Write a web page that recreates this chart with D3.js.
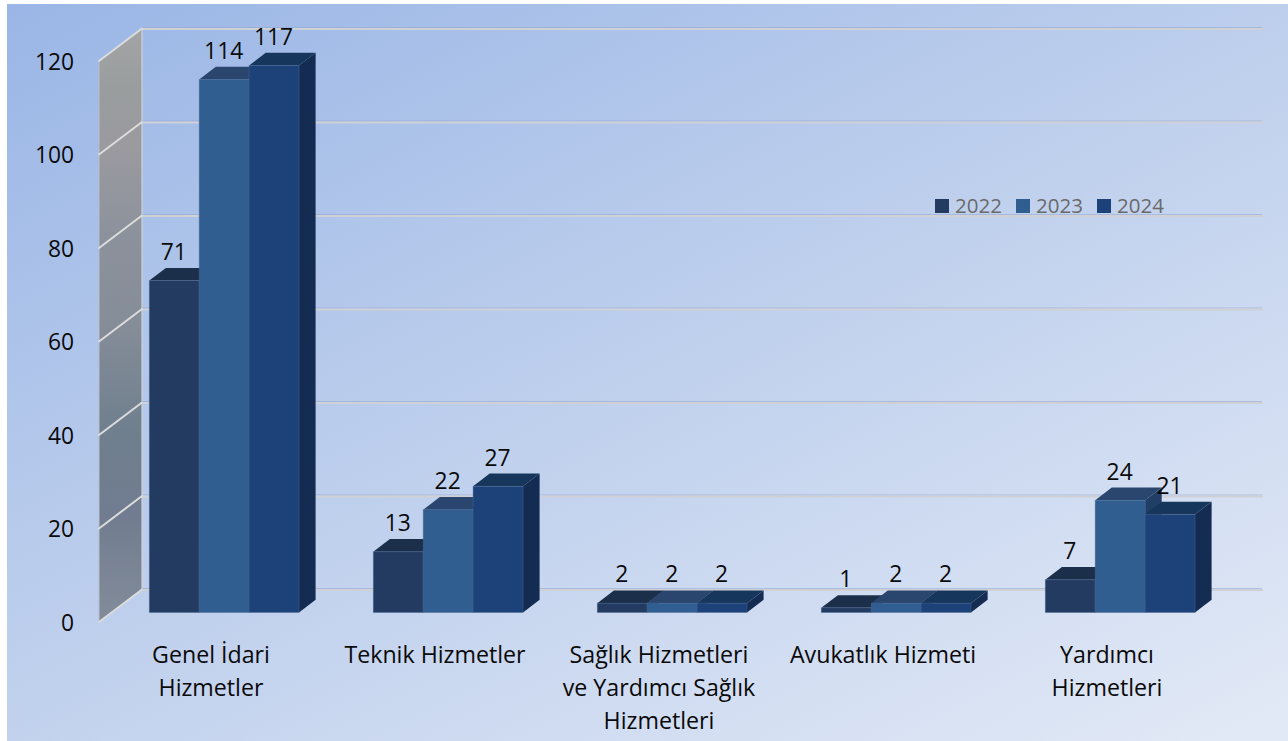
<!DOCTYPE html>
<html><head><meta charset="utf-8">
<script src="https://cdnjs.cloudflare.com/ajax/libs/d3/7.8.5/d3.min.js"></script>
<style>html,body{margin:0;padding:0;background:#fff;overflow:hidden}svg{display:block}text{font-family:"Open Sans",Lato,sans-serif}</style>
</head><body><div id="c"></div>
<script>
const categories=["Genel İdari Hizmetler","Teknik Hizmetler","Sağlık Hizmetleri ve Yardımcı Sağlık Hizmetleri","Avukatlık Hizmeti","Yardımcı Hizmetleri"];
const categoryLines=[["Genel İdari","Hizmetler"],["Teknik Hizmetler"],["Sağlık Hizmetleri","ve Yardımcı Sağlık","Hizmetleri"],["Avukatlık Hizmeti"],["Yardımcı","Hizmetleri"]];
const seriesNames=["2022","2023","2024"];
const values2022=[71,13,2,1,7];
const values2023=[114,22,2,2,24];
const values2024=[117,27,2,2,21];
const allValues=[values2022,values2023,values2024];
const yTicks=[0,20,40,60,80,100,120];
const frontColors=["#243b61","#315e91","#1d4279"];
const topColors=["#1b2e4a","#2a466f","#17365b"];
const sideColors=["#18294a","#213f66","#152c52"];

const W=1288,H=741;
const svg=d3.select("#c").append("svg").attr("width",W).attr("height",H);
const defs=svg.append("defs");
const bg=defs.append("linearGradient").attr("id","bg").attr("gradientUnits","userSpaceOnUse")
  .attr("x1",7).attr("y1",4).attr("x2",552).attr("y2",1094);
[[0,"#9ab6e6"],[.5,"#bfd0ed"],[1,"#e2e9f6"]].forEach(s=>bg.append("stop").attr("offset",s[0]).attr("stop-color",s[1]));
const wg=defs.append("linearGradient").attr("id","wall").attr("x1",0).attr("y1",0).attr("x2",0).attr("y2",1);
[[0,"#a4a4a6"],[.1,"#999d9e"],[.2,"#9b9a9f"],[.35,"#8b929c"],[.5,"#858d98"],[.68,"#6f7f8e"],[.82,"#717c90"],[1,"#828c9a"]].forEach(s=>wg.append("stop").attr("offset",s[0]).attr("stop-color",s[1]));

svg.append("rect").attr("x",7).attr("y",4).attr("width",W-7).attr("height",H-4).attr("fill","url(#bg)");

const x0=d3.scaleBand().domain(categories).range([142,1262]);      // back wall
const xf=d3.scaleBand().domain(categories).range([99,1219]);       // front floor edge (labels)
const y=d3.scaleLinear().domain([0,120]).range([622,61]);          // front edge of wall
const DX=43,DY=-32.5;
const barBase=612.5, depthX=16.6, depthY=-12.7;
const xs=d3.scaleBand().domain(seriesNames).range([7.3,157]);

// wall
svg.append("path").attr("d",`M99,${y(120)}L${99+DX},${y(120)+DY}L${99+DX},${y(0)+DY}L99,${y(0)}Z`)
  .attr("fill","url(#wall)");
svg.append("line").attr("x1",142).attr("x2",142).attr("y1",y(120)+DY).attr("y2",y(0)+DY).attr("stroke","#cfd3da").attr("stroke-width",1.2);
svg.append("line").attr("x1",99).attr("x2",99).attr("y1",y(120)).attr("y2",y(0)).attr("stroke","#b9bfc8").attr("stroke-width",1);

// gridlines
const g=svg.append("g").selectAll("g").data(yTicks).join("g");
g.append("line").attr("x1",142).attr("x2",1262).attr("y1",d=>y(d)+DY-1).attr("y2",d=>y(d)+DY-1).attr("stroke","#8fa6d0").attr("stroke-opacity",.55).attr("stroke-width",1);
g.append("line").attr("x1",142).attr("x2",1262).attr("y1",d=>y(d)+DY+.5).attr("y2",d=>y(d)+DY+.5).attr("stroke","#cfd1d6").attr("stroke-width",2.2).attr("stroke-linecap","round");
g.append("line").attr("x1",99).attr("x2",142).attr("y1",d=>y(d)).attr("y2",d=>y(d)+DY).attr("stroke","#dcdcdc").attr("stroke-width",2).attr("stroke-linecap","round");

// y tick labels
svg.append("g").selectAll("text").data(yTicks).join("text")
  .attr("x",74).attr("y",d=>y(d)+8.5).attr("text-anchor","end").attr("font-size",22.8).attr("fill","#0a0a0a").text(d=>d);

// bars
const barH=d=>y(0)-y(d);
categories.forEach((c,ci)=>{
  const group=svg.append("g");
  seriesNames.forEach((s,si)=>{
    const v=allValues[si][ci];
    const xl=x0(c)+xs(s), w=xs.bandwidth(), top=barBase-barH(v);
    group.append("path").attr("d",`M${xl+w},${top}L${xl+w+depthX},${top+depthY}L${xl+w+depthX},${barBase+depthY}L${xl+w},${barBase}Z`).attr("fill",sideColors[si]);
    group.append("path").attr("d",`M${xl},${top}L${xl+depthX},${top+depthY}L${xl+w+depthX},${top+depthY}L${xl+w},${top}Z`).attr("fill",topColors[si]);
    group.append("rect").attr("x",xl).attr("y",top).attr("width",w).attr("height",barBase-top)
      .attr("fill",frontColors[si]).attr("stroke","#4a6a96").attr("stroke-opacity",.55).attr("stroke-width",.8);
  });
});

// data labels
const lab=svg.append("g");
categories.forEach((c,ci)=>{
  seriesNames.forEach((s,si)=>{
    const v=allValues[si][ci];
    const xl=x0(c)+xs(s), w=xs.bandwidth(), top=barBase-barH(v)+depthY;
    lab.append("text").attr("x",xl+w/2-.5).attr("y",top-8).attr("text-anchor","middle").attr("font-size",22.8).attr("fill","#0a0a0a").text(v);
  });
});

// category labels
categories.forEach((c,ci)=>{
  const t=svg.append("text").attr("text-anchor","middle").attr("font-size",23.2).attr("fill","#0a0a0a");
  categoryLines[ci].forEach((ln,i)=>t.append("tspan").attr("x",xf(c)+xf.bandwidth()/2).attr("y",663+i*32.8).text(ln));
});

// legend
const legendX=d3.scaleOrdinal().domain(seriesNames).range([935,1016,1097]);
const lg=svg.append("g").selectAll("g").data(seriesNames).join("g").attr("transform",d=>`translate(${legendX(d)},199)`);
lg.append("rect").attr("width",14).attr("height",14).attr("fill",(d,i)=>frontColors[i]);
lg.append("text").attr("x",20).attr("y",13.5).attr("font-size",20.5).attr("fill","#6a6a6a").text(d=>d);
</script></body></html>
